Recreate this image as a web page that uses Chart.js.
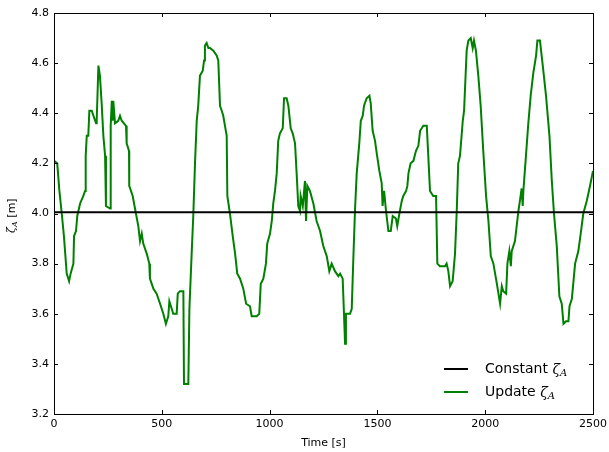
<!DOCTYPE html>
<html>
<head>
<meta charset="utf-8">
<script src="https://cdn.jsdelivr.net/npm/chart.js@4"></script>
<style>
	html, body { margin: 0; padding: 0; background: #fff; }
	#wrap { width: 609px; height: 452px; }
</style>
</head>
<body>
<div id="wrap"><canvas id="graphOne"></canvas></div>
<script>
const times = [0, 15, 25, 36, 46, 59, 70, 77, 90, 93, 102, 108, 121, 136, 144, 147, 152, 159, 164, 175,
	195, 198, 206, 213, 221, 229, 237, 241, 260, 263, 268, 272, 275, 283, 298, 306, 314, 334, 337, 348,
	349, 365, 380, 391, 399, 407, 414, 430, 442, 445, 461, 476, 492, 507, 519, 530, 535, 546, 553, 569,
	574, 584, 600, 603, 623, 628, 638, 646, 654, 662, 669, 677, 690, 696, 700, 708, 716, 724, 739, 755,
	762, 770, 778, 785, 801, 804, 816, 829, 840, 850, 863, 878, 891, 909, 917, 940, 952, 959, 971, 983,
	989, 1002, 1010, 1017, 1025, 1033, 1040, 1048, 1061, 1067, 1079, 1087, 1098, 1107, 1118, 1126, 1133, 1141, 1144, 1154,
	1164, 1169, 1175, 1187, 1203, 1218, 1234, 1249, 1265, 1277, 1288, 1303, 1319, 1327, 1339, 1345, 1350, 1354, 1373, 1381,
	1388, 1396, 1404, 1416, 1423, 1432, 1438, 1450, 1463, 1469, 1478, 1489, 1497, 1509, 1520, 1524, 1531, 1540, 1551, 1562,
	1571, 1586, 1592, 1602, 1613, 1620, 1633, 1639, 1644, 1654, 1667, 1679, 1690, 1698, 1713, 1729, 1736, 1744, 1759, 1772,
	1778, 1790, 1814, 1821, 1829, 1837, 1849, 1860, 1868, 1875, 1883, 1896, 1902, 1914, 1922, 1933, 1942, 1948, 1957, 1968,
	1979, 1991, 2004, 2015, 2026, 2038, 2054, 2069, 2077, 2084, 2097, 2103, 2112, 2119, 2123, 2138, 2154, 2161, 2169, 2174,
	2177, 2189, 2200, 2211, 2223, 2236, 2242, 2254, 2267, 2282, 2298, 2309, 2319, 2332, 2344, 2355, 2363, 2375, 2386, 2391,
	2402, 2417, 2432, 2443, 2455, 2471, 2486, 2500];

const zetaUpdate = [4.21, 4.20, 4.09, 4.00, 3.91, 3.76, 3.73, 3.76, 3.80, 3.91, 3.93, 3.99, 4.04, 4.07, 4.09, 4.23, 4.31, 4.31, 4.41, 4.41,
	4.36, 4.37, 4.59, 4.55, 4.44, 4.31, 4.23, 4.03, 4.02, 4.35, 4.45, 4.37, 4.45, 4.36, 4.37, 4.39, 4.37, 4.35, 4.28, 4.25,
	4.11, 4.07, 4.00, 3.95, 3.89, 3.92, 3.88, 3.84, 3.80, 3.74, 3.70, 3.68, 3.64, 3.60, 3.56, 3.59, 3.65, 3.62, 3.60, 3.60,
	3.68, 3.69, 3.69, 3.32, 3.32, 3.62, 3.83, 3.99, 4.20, 4.37, 4.43, 4.55, 4.57, 4.61, 4.67, 4.68, 4.66, 4.66, 4.65, 4.63,
	4.61, 4.43, 4.41, 4.39, 4.31, 4.07, 4.00, 3.91, 3.84, 3.76, 3.74, 3.70, 3.64, 3.63, 3.59, 3.59, 3.60, 3.72, 3.74, 3.80,
	3.88, 3.92, 3.97, 4.04, 4.09, 4.16, 4.29, 4.32, 4.34, 4.46, 4.46, 4.43, 4.34, 4.32, 4.28, 4.15, 4.03, 4.01, 4.07, 4.03,
	4.13, 3.97, 4.11, 4.09, 4.04, 3.97, 3.93, 3.87, 3.83, 3.77, 3.80, 3.77, 3.75, 3.76, 3.74, 3.60, 3.48, 3.60, 3.60, 3.62,
	3.81, 4.01, 4.16, 4.28, 4.37, 4.39, 4.43, 4.46, 4.47, 4.44, 4.33, 4.29, 4.24, 4.17, 4.12, 4.03, 4.09, 4.01, 3.93, 3.93,
	3.99, 3.98, 3.95, 4.00, 4.05, 4.07, 4.09, 4.11, 4.16, 4.20, 4.21, 4.25, 4.27, 4.33, 4.35, 4.35, 4.23, 4.09, 4.07, 4.07,
	3.80, 3.79, 3.79, 3.80, 3.77, 3.71, 3.73, 3.84, 4.01, 4.20, 4.23, 4.37, 4.41, 4.65, 4.69, 4.70, 4.66, 4.69, 4.65, 4.55,
	4.43, 4.25, 4.07, 3.97, 3.83, 3.80, 3.72, 3.64, 3.71, 3.69, 3.68, 3.80, 3.85, 3.79, 3.85, 3.89, 4.01, 4.05, 4.10, 4.03,
	4.09, 4.23, 4.36, 4.47, 4.56, 4.63, 4.69, 4.69, 4.59, 4.47, 4.31, 4.13, 4.00, 3.87, 3.67, 3.64, 3.56, 3.57, 3.57, 3.63,
	3.66, 3.80, 3.85, 3.92, 4.00, 4.05, 4.11, 4.17];

const constTimes = [0, 2500];
const zetaConstant = [4.005, 4.005];

const xTicks = [0, 500, 1000, 1500, 2000, 2500];
const yTicks = [3.2, 3.4, 3.6, 3.8, 4.0, 4.2, 4.4, 4.6, 4.8];

const legendItems = [
	{ text: 'Constant ', color: '#000000' },
	{ text: 'Update ', color: '#008000' }
];

const FONT = '"DejaVu Sans", sans-serif';

// draws "zeta" + subscript A the way mathtext does
function drawZeta(ctx, x, y, size) {
	ctx.font = 'italic ' + size + 'px "DejaVu Serif", serif';
	ctx.fillText('ζ', x, y);
	const w = ctx.measureText('ζ').width;
	ctx.font = 'italic ' + Math.round(size * 0.7) + 'px "DejaVu Serif", serif';
	ctx.fillText('A', x + w, y + size * 0.22);
	return w + ctx.measureText('A').width;
}

const framePlugin = {
	id: 'frame',
	afterDraw(chart) {
		const ctx = chart.ctx;
		const a = chart.chartArea;
		const xs = chart.scales.x, ys = chart.scales.y;
		ctx.save();
		ctx.strokeStyle = '#000';
		ctx.lineWidth = 1;
		ctx.beginPath();
		xTicks.forEach(t => {
			const px = Math.round(xs.getPixelForValue(t)) + 0.5;
			ctx.moveTo(px, a.bottom); ctx.lineTo(px, a.bottom - 4);
			ctx.moveTo(px, a.top); ctx.lineTo(px, a.top + 4);
		});
		yTicks.forEach(v => {
			const py = Math.round(ys.getPixelForValue(v)) + 0.5;
			ctx.moveTo(a.left, py); ctx.lineTo(a.left + 4, py);
			ctx.moveTo(a.right, py); ctx.lineTo(a.right - 4, py);
		});
		ctx.stroke();
		ctx.strokeRect(Math.round(a.left) + 0.5, Math.round(a.top) + 0.5,
			Math.round(a.right - a.left), Math.round(a.bottom - a.top));

		// y axis title
		ctx.fillStyle = '#000';
		ctx.translate(15, (a.top + a.bottom) / 2);
		ctx.rotate(-Math.PI / 2);
		ctx.textBaseline = 'alphabetic';
		ctx.font = '11px ' + FONT;
		const rest = ' [m]';
		const wz = 16;
		const wr = ctx.measureText(rest).width;
		let sx = -(wz + wr) / 2;
		const zw = drawZeta(ctx, sx, 0, 11);
		ctx.font = '11px ' + FONT;
		ctx.fillText(rest, sx + zw, 0);
		ctx.setTransform(1, 0, 0, 1, 0, 0);

		// legend
		legendItems.forEach((item, i) => {
			const y = 369 + i * 23;
			ctx.strokeStyle = item.color;
			ctx.lineWidth = 2;
			ctx.beginPath();
			ctx.moveTo(444, y); ctx.lineTo(468, y);
			ctx.stroke();
			ctx.fillStyle = '#000';
			ctx.textBaseline = 'middle';
			ctx.font = '14px ' + FONT;
			ctx.fillText(item.text, 485, y);
			const w = ctx.measureText(item.text).width;
			ctx.textBaseline = 'middle';
			drawZeta(ctx, 485 + w, y + 1, 14);
		});
		ctx.restore();
	}
};

const ctx1 = document.getElementById('graphOne');

new Chart(ctx1, {
	type: 'line',
	data: {
		datasets: [{
			label: 'Constant ζA',
			data: constTimes.map((t, i) => ({ x: t, y: zetaConstant[i] })),
			borderColor: '#000000',
			borderWidth: 2,
			pointRadius: 0
		}, {
			label: 'Update ζA',
			data: times.map((t, i) => ({ x: t, y: zetaUpdate[i] })),
			borderColor: '#008000',
			borderWidth: 2,
			pointRadius: 0,
			tension: 0
		}]
	},
	options: {
		responsive: true,
		maintainAspectRatio: false,
		animation: false,
		layout: {
			padding: { left: 0, right: 16, top: 13, bottom: 0 }
		},
		scales: {
			x: {
				type: 'linear',
				min: 0,
				max: 2500,
				afterFit: s => { s.height = 38; s.paddingRight = 0; },
				afterBuildTicks: s => { s.ticks = xTicks.map(v => ({ value: v })); },
				grid: { display: false, drawTicks: false },
				border: { display: false },
				ticks: {
					padding: 4,
					color: '#000',
					font: { family: FONT, size: 11 },
					maxRotation: 0,
					callback: v => String(v)
				},
				title: {
					display: true,
					text: 'Time [s]',
					color: '#000',
					font: { family: FONT, size: 11 },
					padding: { top: 0, bottom: 2 }
				}
			},
			y: {
				min: 3.2,
				max: 4.8,
				afterFit: s => { s.width = 54; },
				afterBuildTicks: s => { s.ticks = yTicks.map(v => ({ value: v })); },
				grid: { display: false, drawTicks: false },
				border: { display: false },
				ticks: {
					padding: 5,
					color: '#000',
					font: { family: FONT, size: 11 },
					callback: v => v.toFixed(1)
				}
			}
		},
		plugins: {
			legend: { display: false },
			tooltip: { enabled: false }
		}
	},
	plugins: [framePlugin]
});
</script>
</body>
</html>
